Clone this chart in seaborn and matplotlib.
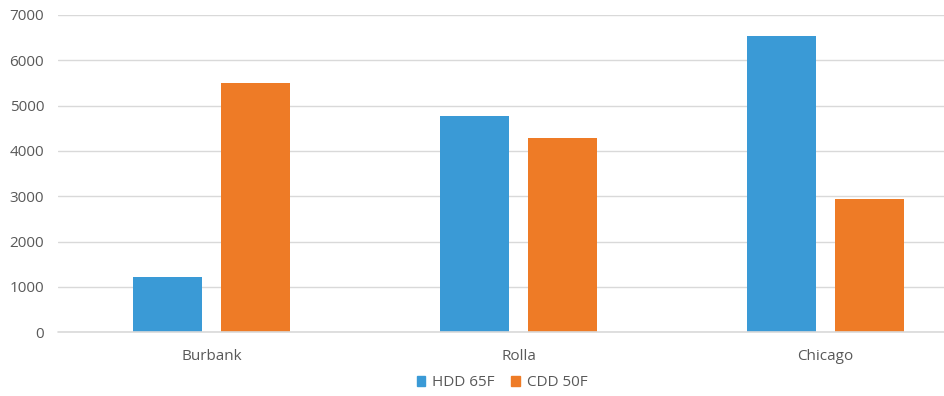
import matplotlib
matplotlib.use("Agg")
import matplotlib.pyplot as plt
import matplotlib.patches as mpatches
import seaborn as sns
import pandas as pd

cities = ["Burbank", "Rolla", "Chicago"]
series_names = ["HDD 65F", "CDD 50F"]
hdd_values = [1210, 4765, 6540]
cdd_values = [5490, 4280, 2940]
y_ticks = [0, 1000, 2000, 3000, 4000, 5000, 6000, 7000]

colors = ["#3A9AD6", "#EE7B26"]

df = pd.DataFrame({
    "city": cities * 2,
    "series": [series_names[0]] * 3 + [series_names[1]] * 3,
    "value": hdd_values + cdd_values,
})

sns.set_theme(style="white")
plt.rcParams["font.family"] = ["Open Sans", "DejaVu Sans"]

W, H = 944, 396
fig = plt.figure(figsize=(W / 100, H / 100), dpi=100)
left, right, top, bottom = 58, 979, 15, 332.3
ax = fig.add_axes([left / W, 1 - bottom / H, (right - left) / W, (bottom - top) / H])

sns.barplot(data=df, x="city", y="value", hue="series", order=cities,
            hue_order=series_names, palette=colors, width=0.573, gap=0.216,
            ax=ax, legend=False, saturation=1, linewidth=0, edgecolor="none")

ax.set_ylim(0, 7000)
ax.set_xlim(-0.5, 2.5)
ax.set_yticks(y_ticks)
ax.set_yticklabels([str(t) for t in y_ticks])
ax.yaxis.grid(True, color="#D9D9D9", linewidth=1.0)
ax.set_axisbelow(True)
ax.axhline(0, color="#D9D9D9", linewidth=1.2, clip_on=False, zorder=3)
for s in ax.spines.values():
    s.set_visible(False)
ax.tick_params(axis="both", length=0, colors="#595959", labelsize=11)
ax.tick_params(axis="y", pad=10)
ax.tick_params(axis="x", pad=12)
ax.set_xlabel("")
ax.set_ylabel("")

handles = [mpatches.Patch(color=c, label=n) for c, n in zip(colors, series_names)]
leg = fig.legend(handles=handles, loc="center", bbox_to_anchor=(502 / W, 1 - 383 / H),
                 ncol=2, frameon=False, fontsize=11, handlelength=0.55, handleheight=0.55,
                 handletextpad=0.45, columnspacing=1.1)
for t in leg.get_texts():
    t.set_color("#595959")

fig.savefig("out.png", dpi=100)
